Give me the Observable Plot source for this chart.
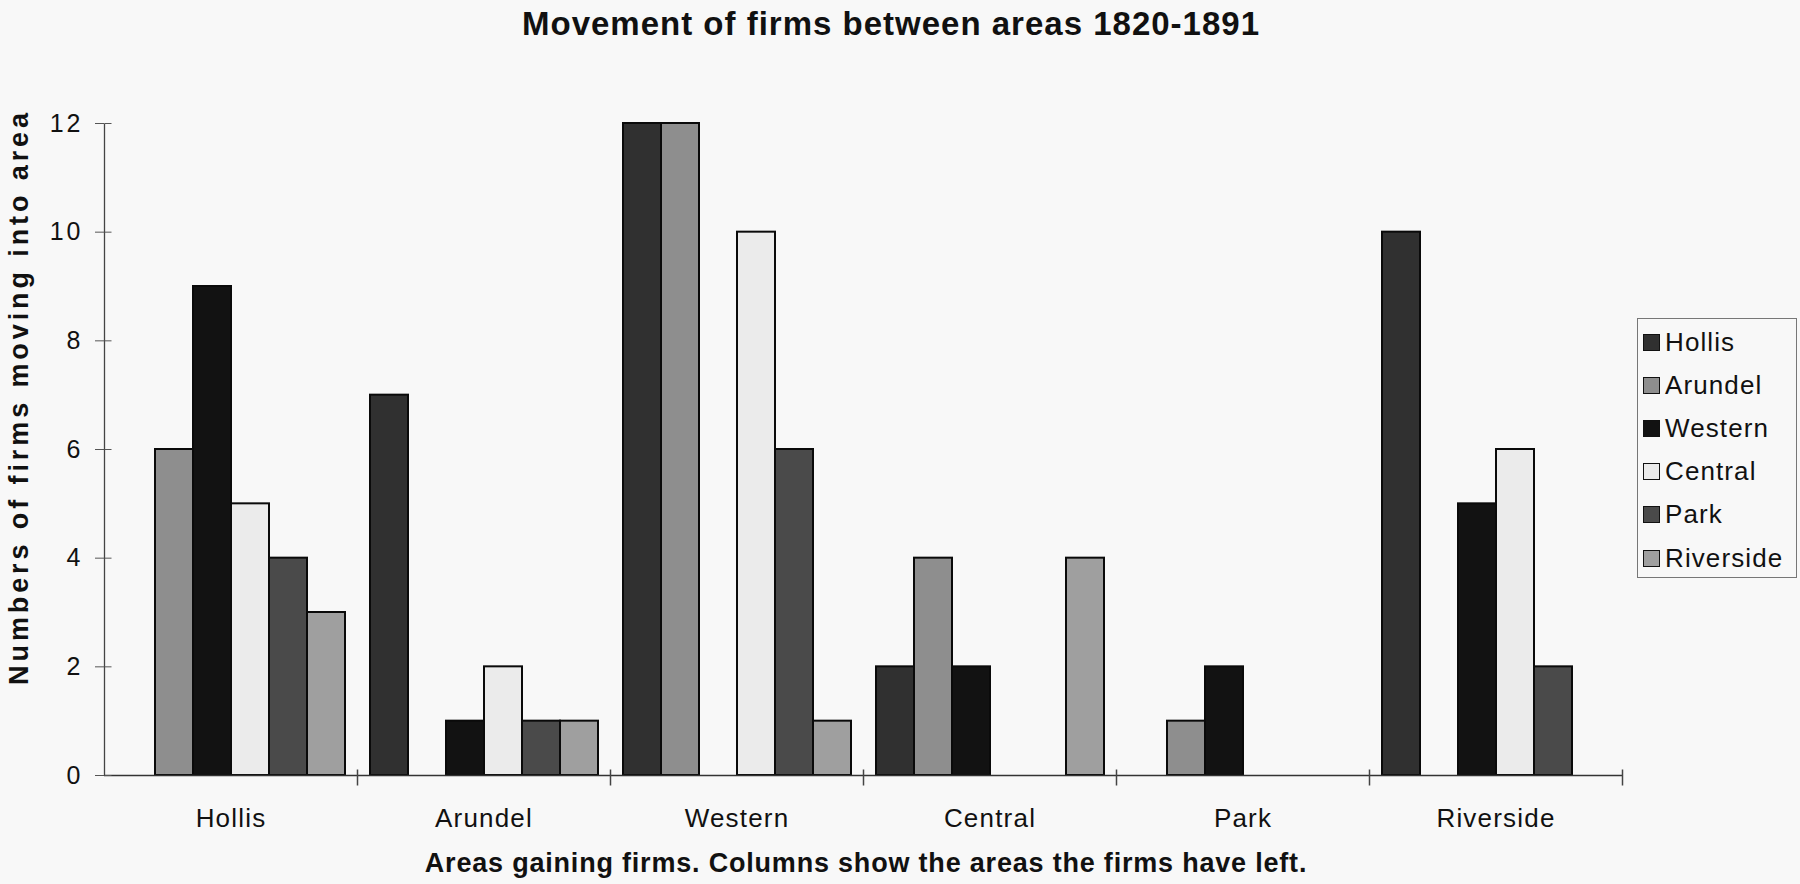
<!DOCTYPE html>
<html>
<head>
<meta charset="utf-8">
<script src="https://cdn.jsdelivr.net/npm/d3@7"></script>
<script src="https://cdn.jsdelivr.net/npm/@observablehq/plot@0.6"></script>
<style>
  html, body { margin: 0; padding: 0; background: #f8f8f8; }
  #wrap { position: relative; width: 1800px; height: 884px; overflow: hidden;
          font-family: "Liberation Sans", Arial, Helvetica, sans-serif; color: #111; }
  #chart { position: absolute; left: 0; top: 0; }
  .ov { position: absolute; white-space: nowrap; line-height: 1; }
  #title { left: 891px; top: 23px; transform: translate(-50%, -50%); font-weight: bold; font-size: 33px; letter-spacing: 1px; }
  #xtitle { left: 866px; top: 863px; transform: translate(-50%, -50%); font-weight: bold; font-size: 27px; letter-spacing: 0.8px; }
  #ytitle { left: 19px; top: 397px; transform: translate(-50%, -50%) rotate(-90deg); font-weight: bold; font-size: 27px; letter-spacing: 3.9px; }
  #legend { position: absolute; left: 1637px; top: 318px; width: 160px; height: 260px; border: 1px solid #777; box-sizing: border-box; }
  .item { position: absolute; left: 5px; height: 30px; display: flex; align-items: center; font-size: 26px; letter-spacing: 1.1px; }
  .sw { width: 15px; height: 15px; border: 1.5px solid #111; margin-right: 5px; box-sizing: content-box; }
</style>
</head>
<body>
<div id="wrap">
  <div id="chart"></div>
  <div id="title" class="ov"></div>
  <div id="xtitle" class="ov"></div>
  <div id="ytitle" class="ov"></div>
  <div id="legend"></div>
</div>
<script>
// Areas gaining firms (groups along the x axis)
const groups = ["Hollis", "Arundel", "Western", "Central", "Park", "Riverside"];
// Areas the firms have left (columns within each group)
const series = ["Hollis", "Arundel", "Western", "Central", "Park", "Riverside"];
// Values per gaining area, in the order of `series`
const hollisGain    = [0, 6, 9, 5, 4, 3];
const arundelGain   = [7, 0, 1, 2, 1, 1];
const westernGain   = [12, 12, 0, 10, 6, 1];
const centralGain   = [2, 4, 2, 0, 0, 4];
const parkGain      = [0, 1, 2, 0, 0, 0];
const riversideGain = [10, 0, 5, 6, 2, 0];
const yTicks = [0, 2, 4, 6, 8, 10, 12];
const fills = ["#303030", "#8e8e8e", "#121212", "#ebebeb", "#4a4a4a", "#9f9f9f"];

const titleText = "Movement of firms between areas 1820-1891";
const xTitleText = "Areas gaining firms. Columns show the areas the firms have left.";
const yTitleText = "Numbers of firms moving into area";

const gainTable = [hollisGain, arundelGain, westernGain, centralGain, parkGain, riversideGain];
const rows = [];
groups.forEach((g, i) => {
  series.forEach((s, j) => {
    const v = gainTable[i][j];
    if (v > 0) rows.push({gain: g, left: s, value: v});
  });
});

const W = 1800, H = 884;
const mL = 101, mR = 176, mT = 123, mB = 109;
const innerH = H - mT - mB;

const boundaryTick = { draw(ctx) { ctx.moveTo(0, -6); ctx.lineTo(0, 10); } };
const axisLine = { draw(ctx) { ctx.moveTo(0, 0); ctx.lineTo(0, -innerH); } };
const innerTick = { draw(ctx) { ctx.moveTo(0, 0); ctx.lineTo(7, 0); } };

const plot = Plot.plot({
  width: W, height: H,
  marginLeft: mL, marginRight: mR, marginTop: mT, marginBottom: mB,
  style: { background: "transparent", fontFamily: "'Liberation Sans', Arial, sans-serif", color: "#111" },
  fx: { domain: groups, padding: 0, label: null },
  x: { domain: series, paddingInner: 0, paddingOuter: 0.25, axis: null },
  y: { domain: [0, 12], label: null, axis: null },
  color: { domain: series, range: fills },
  marks: [
    Plot.barY(rows, { fx: "gain", x: "left", y: "value", fill: "left", stroke: "#0a0a0a", strokeWidth: 2 }),
    Plot.ruleY([0], { stroke: "#333", strokeWidth: 1.5 }),
    Plot.dot(groups.slice(0, 1), { fx: d => d, frameAnchor: "bottom-left", symbol: axisLine, stroke: "#444", strokeWidth: 1.3 }),
    Plot.dot(yTicks, { fx: () => groups[0], y: d => d, frameAnchor: "left", symbol: innerTick, stroke: "#555", strokeWidth: 1 }),
    Plot.dot(groups.slice(1), { fx: d => d, frameAnchor: "bottom-left", symbol: boundaryTick, stroke: "#444", strokeWidth: 1.5 }),
    Plot.dot(groups.slice(-1), { fx: d => d, frameAnchor: "bottom-right", symbol: boundaryTick, stroke: "#444", strokeWidth: 1.5 }),
    Plot.axisY({ ticks: yTicks, tickSize: 9, tickPadding: 12, fontSize: 25, tickFormat: d => String(d), label: null, stroke: "#555" }),
    Plot.axisFx({ anchor: "bottom", tickSize: 0, tickPadding: 33, fontSize: 26, label: null })
  ]
});
d3.select(plot).selectAll("g[aria-label='y-axis tick label'] text").style("letter-spacing", "3px");
d3.select(plot).selectAll("g[aria-label='fx-axis tick label'] text").style("letter-spacing", "1.2px");
document.getElementById("chart").appendChild(plot);

document.getElementById("title").textContent = titleText;
document.getElementById("xtitle").textContent = xTitleText;
document.getElementById("ytitle").textContent = yTitleText;

const legend = document.getElementById("legend");
series.forEach((s, j) => {
  const item = document.createElement("div");
  item.className = "item";
  item.style.top = (8 + j * 43.2) + "px";
  const sw = document.createElement("div");
  sw.className = "sw";
  sw.style.background = fills[j];
  const lab = document.createElement("span");
  lab.textContent = s;
  item.appendChild(sw);
  item.appendChild(lab);
  legend.appendChild(item);
});
</script>
</body>
</html>
